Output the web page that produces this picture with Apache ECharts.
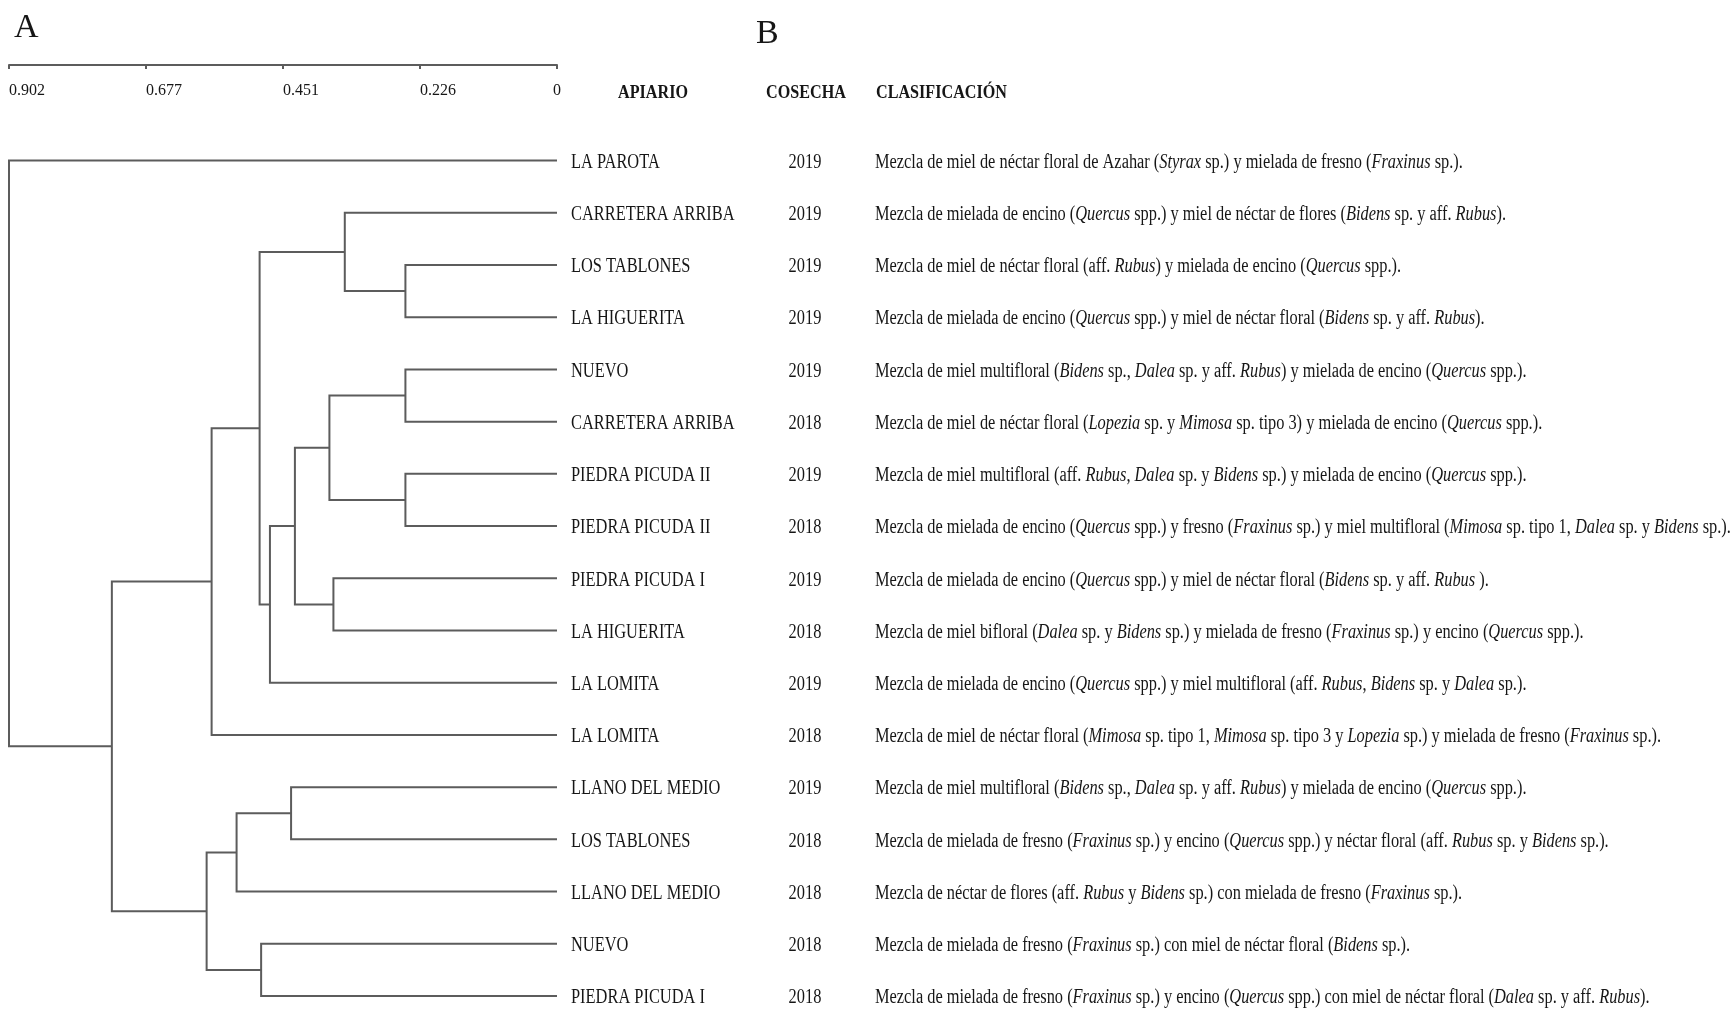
<!DOCTYPE html>
<html><head><meta charset="utf-8">
<script src="https://cdn.jsdelivr.net/npm/echarts@6/dist/echarts.min.js"></script>
<style>html,body{margin:0;padding:0;background:#fff}#c{width:1735px;height:1010px}</style>
</head><body><div id="c"></div>
<script>
// ---- data ----
const apiarios = ['LA PAROTA','CARRETERA ARRIBA','LOS TABLONES','LA HIGUERITA','NUEVO','CARRETERA ARRIBA','PIEDRA PICUDA II','PIEDRA PICUDA II','PIEDRA PICUDA I','LA HIGUERITA','LA LOMITA','LA LOMITA','LLANO DEL MEDIO','LOS TABLONES','LLANO DEL MEDIO','NUEVO','PIEDRA PICUDA I'];
const cosechas = ['2019','2019','2019','2019','2019','2018','2019','2018','2019','2018','2019','2018','2019','2018','2018','2018','2018'];
const clasificaciones = [
  'Mezcla de miel de néctar floral de Azahar (_Styrax_ sp.) y mielada de fresno (_Fraxinus_ sp.).',
  'Mezcla de mielada de encino (_Quercus_ spp.) y miel de néctar de flores (_Bidens_ sp. y aff. _Rubus_).',
  'Mezcla de miel de néctar floral (aff. _Rubus_) y mielada de encino (_Quercus_ spp.).',
  'Mezcla de mielada de encino (_Quercus_ spp.) y miel de néctar floral (_Bidens_ sp. y aff. _Rubus_).',
  'Mezcla de miel multifloral (_Bidens_ sp., _Dalea_ sp. y aff. _Rubus_) y mielada de encino (_Quercus_ spp.).',
  'Mezcla de miel de néctar floral (_Lopezia_ sp. y _Mimosa_ sp. tipo 3) y mielada de encino (_Quercus_ spp.).',
  'Mezcla de miel multifloral (aff. _Rubus_, _Dalea_ sp. y _Bidens_ sp.) y mielada de encino (_Quercus_ spp.).',
  'Mezcla de mielada de encino (_Quercus_ spp.) y fresno (_Fraxinus_ sp.) y miel multifloral (_Mimosa_ sp. tipo 1, _Dalea_ sp. y _Bidens_ sp.).',
  'Mezcla de mielada de encino (_Quercus_ spp.) y miel de néctar floral (_Bidens_ sp. y aff. _Rubus_ ).',
  'Mezcla de miel bifloral (_Dalea_ sp. y _Bidens_ sp.) y mielada de fresno (_Fraxinus_ sp.) y encino (_Quercus_ spp.).',
  'Mezcla de mielada de encino (_Quercus_ spp.) y miel multifloral (aff. _Rubus_, _Bidens_ sp. y _Dalea_ sp.).',
  'Mezcla de miel de néctar floral (_Mimosa_ sp. tipo 1, _Mimosa_ sp. tipo 3 y _Lopezia_ sp.) y mielada de fresno (_Fraxinus_ sp.).',
  'Mezcla de miel multifloral (_Bidens_ sp., _Dalea_ sp. y aff. _Rubus_) y mielada de encino (_Quercus_ spp.).',
  'Mezcla de mielada de fresno (_Fraxinus_ sp.) y encino (_Quercus_ spp.) y néctar floral (aff. _Rubus_ sp. y _Bidens_ sp.).',
  'Mezcla de néctar de flores (aff. _Rubus_ y _Bidens_ sp.) con mielada de fresno (_Fraxinus_ sp.).',
  'Mezcla de mielada de fresno (_Fraxinus_ sp.) con miel de néctar floral (_Bidens_ sp.).',
  'Mezcla de mielada de fresno (_Fraxinus_ sp.) y encino (_Quercus_ spp.) con miel de néctar floral (_Dalea_ sp. y aff. _Rubus_).'
];
// dendrogram merges: L = leaf (row index), M = earlier merge
const mergeLeft   = ['L2','L4','L6','L1','L8','M1','M5','L12','M6','L15','M3','M7','M10','M11','M12','L0'];
const mergeRight  = ['L3','L5','L7','M0','L9','M2','M4','L13','L10','L16','M8','L14','L11','M9','M13','M14'];
const mergeHeight = [0.2495,0.2495,0.2495,0.3493,0.368,0.3746,0.4314,0.4377,0.4725,0.487,0.4895,0.5274,0.5685,0.5767,0.7327,0.902];
const tickLabels = ['0','0.226','0.451','0.677','0.902'];
const headers = ['APIARIO','COSECHA','CLASIFICACIÓN'];
const panelLabels = ['A','B'];

// ---- layout of the tree (data space) ----
const nodeY = [];
function ref(r){
  const k = +r.slice(1);
  return r[0]==='L' ? {x:0, y:k} : {x:mergeHeight[k], y:nodeY[k]};
}
mergeHeight.forEach((h,k)=>{ nodeY[k] = (ref(mergeLeft[k]).y + ref(mergeRight[k]).y)/2; });

const LINE = '#5c5c5c', TXT = '#161616', SERIF = '"Liberation Serif","Times New Roman",serif';
const FS = 20, SX_NAME = 0.82, SX_CLASS = 0.818, TY = 2;
function toRich(s){ return s.split('_').map((seg,i)=> seg ? (i%2 ? '{i|'+seg+'}' : '{n|'+seg+'}') : '').join(''); }
const tickStep = mergeHeight[mergeHeight.length-1]/4;

const chart = echarts.init(document.getElementById('c'), null, {renderer:'canvas'});
chart.setOption({
  animation:false,
  backgroundColor:'#fff',
  grid:{left:9, right:1735-557, top:65, bottom:14},
  xAxis:{type:'value', position:'top', inverse:true, min:0, max:tickStep*4, interval:tickStep,
    axisLine:{show:true, onZero:false, lineStyle:{color:LINE, width:2}},
    axisTick:{show:true, inside:true, length:4, lineStyle:{color:LINE, width:2}},
    axisLabel:{inside:true, margin:18, align:'left', alignMinLabel:'center', color:TXT, fontFamily:SERIF, fontSize:16,
      formatter:(v)=>tickLabels[Math.round(v/tickStep)]},
    splitLine:{show:false}},
  yAxis:{type:'value', inverse:true, min:-1.83, max:16, show:false},
  graphic:[
    {type:'text', x:14, y:28, style:{text:panelLabels[0], font:'34px '+SERIF, fill:TXT, textVerticalAlign:'middle', verticalAlign:'middle'}},
    {type:'text', x:756, y:34, style:{text:panelLabels[1], font:'34px '+SERIF, fill:TXT, textVerticalAlign:'middle', verticalAlign:'middle'}},
    {type:'text', x:653, y:93, scaleX:0.85, style:{text:headers[0], font:'bold 19px '+SERIF, fill:TXT, textAlign:'center', align:'center', textVerticalAlign:'middle', verticalAlign:'middle'}},
    {type:'text', x:806, y:93, scaleX:0.85, style:{text:headers[1], font:'bold 19px '+SERIF, fill:TXT, textAlign:'center', align:'center', textVerticalAlign:'middle', verticalAlign:'middle'}},
    {type:'text', x:876, y:93, scaleX:0.85, style:{text:headers[2], font:'bold 19px '+SERIF, fill:TXT, textAlign:'left', align:'left', textVerticalAlign:'middle', verticalAlign:'middle'}}
  ],
  series:[
    {type:'custom', coordinateSystem:'cartesian2d', clip:false, silent:true,
      data: mergeHeight.map((h,k)=>[h, nodeY[k]]),
      renderItem:(params, api)=>{
        const k = params.dataIndex, h = mergeHeight[k];
        const a = ref(mergeLeft[k]), b = ref(mergeRight[k]);
        const pts = [api.coord([a.x,a.y]), api.coord([h,a.y]), api.coord([h,b.y]), api.coord([b.x,b.y])];
        return {type:'polyline', shape:{points:pts}, style:{stroke:LINE, lineWidth:2, fill:'none', lineJoin:'miter', lineCap:'butt'}};
      }},
    {type:'custom', coordinateSystem:'cartesian2d', clip:false, silent:true,
      data: apiarios.map((n,i)=>[0,i]),
      renderItem:(params, api)=>{
        const i = params.dataIndex, p = api.coord([0,i]);
        const base = {fill:TXT, fontFamily:SERIF, fontSize:FS, textVerticalAlign:'middle', verticalAlign:'middle'};
        return {type:'group', children:[
          {type:'text', x:p[0]+14, y:p[1]+TY, scaleX:SX_NAME, style:Object.assign({text:apiarios[i], textAlign:'left', align:'left'}, base)},
          {type:'text', x:p[0]+248, y:p[1]+TY, scaleX:SX_NAME, style:Object.assign({text:cosechas[i], textAlign:'center', align:'center'}, base)},
          {type:'text', x:p[0]+318, y:p[1]+TY, scaleX:SX_CLASS, style:Object.assign({text:toRich(clasificaciones[i]), textAlign:'left', align:'left',
            rich:{n:{fill:TXT, fontFamily:SERIF, fontSize:FS}, i:{fill:TXT, fontFamily:SERIF, fontSize:FS, fontStyle:'italic'}}}, base)}
        ]};
      }}
  ]
});
</script></body></html>
